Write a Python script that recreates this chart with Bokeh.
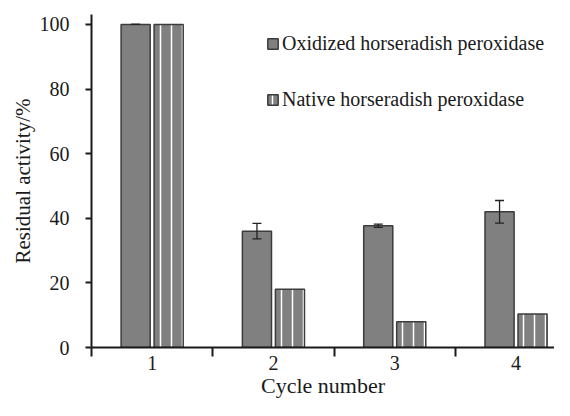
from bokeh.plotting import figure
from bokeh.models import Range1d, FixedTicker, Whisker, TeeHead, ColumnDataSource, Legend, LegendItem
from bokeh.embed import file_html
from bokeh.resources import INLINE

cycles = [1, 2, 3, 4]
tick_labels = ["1", "2", "3", "4"]
oxidized = [100, 36.0, 37.7, 42.0]
oxidized_err = [0.0, 2.4, 0.5, 3.5]
native = [100, 18.0, 8.0, 10.4]
series_names = ["Oxidized horseradish peroxidase", "Native horseradish peroxidase"]
x_title = "Cycle number"
y_title = "Residual activity/%"

FONT = "Liberation Serif"
LFONT = "'Liberation Serif', serif"
OFF = 0.136
BW = 0.24
INK = "#1a1a1a"

p = figure(width=554, height=400, output_backend="svg", toolbar_location=None,
           x_range=Range1d(0.5, 4.317), y_range=Range1d(0, 103.07),
           min_border_left=91, min_border_right=0, min_border_top=14, min_border_bottom=50)
p.outline_line_color = None
p.xgrid.visible = False
p.ygrid.visible = False

ox_x = [c - OFF for c in cycles]
na_x = [c + OFF for c in cycles]
src_ox = ColumnDataSource(dict(x=ox_x, top=oxidized, upper=[v + e for v, e in zip(oxidized, oxidized_err)],
                               lower=[v - e for v, e in zip(oxidized, oxidized_err)]))
src_na = ColumnDataSource(dict(x=na_x, top=native))

r_ox = p.vbar(x="x", top="top", width=BW, source=src_ox, fill_color="#808080",
              line_color="#3c3c3c", line_width=1.5)
r_na = p.vbar(x="x", top="top", width=BW, source=src_na, fill_color="#808080",
              line_color="#3c3c3c", line_width=1.5, hatch_pattern="vertical_line",
              hatch_color="white", hatch_scale=11, hatch_weight=1.5)

w = Whisker(base="x", upper="upper", lower="lower", source=src_ox, line_color="#222222", line_width=1.3,
            upper_head=TeeHead(size=9, line_color="#222222", line_width=1.3),
            lower_head=TeeHead(size=9, line_color="#222222", line_width=1.3))
w.level = "overlay"
p.add_layout(w)

# x axis
xa = p.xaxis[0]
xa.ticker = FixedTicker(ticks=cycles, minor_ticks=[0.5, 1.5, 2.5, 3.5, 4.5])
xa.major_label_overrides = {c: t for c, t in zip(cycles, tick_labels)}
xa.major_tick_out = 0
xa.major_tick_in = 0
xa.minor_tick_out = 9
xa.minor_tick_in = 0
xa.axis_line_width = 2
xa.axis_line_color = INK
xa.minor_tick_line_color = INK
xa.minor_tick_line_width = 2
xa.major_label_text_font = FONT
xa.major_label_text_font_size = "20px"
xa.major_label_text_color = INK
xa.major_label_standoff = -1
xa.axis_label = x_title
xa.axis_label_text_font = FONT
xa.axis_label_text_font_size = "22px"
xa.axis_label_text_font_style = "normal"
xa.axis_label_text_color = INK
xa.axis_label_standoff = 0

# y axis
ya = p.yaxis[0]
ya.ticker = FixedTicker(ticks=[0, 20, 40, 60, 80, 100], minor_ticks=[])
ya.major_tick_out = 6
ya.major_tick_in = 0
ya.major_tick_line_width = 2
ya.major_tick_line_color = INK
ya.axis_line_width = 2
ya.axis_line_color = INK
ya.major_label_text_font = FONT
ya.major_label_text_font_size = "20px"
ya.major_label_text_color = INK
ya.major_label_standoff = 16
ya.axis_label = y_title
ya.axis_label_text_font = FONT
ya.axis_label_text_font_size = "21px"
ya.axis_label_text_font_style = "normal"
ya.axis_label_text_color = INK
ya.axis_label_standoff = 2

legend = Legend(items=[LegendItem(label=series_names[0], renderers=[r_ox]),
                       LegendItem(label=series_names[1], renderers=[r_na])],
                location=(175, 236), orientation="vertical",
                label_text_font=LFONT, label_text_font_size="20px", label_text_color=INK,
                glyph_width=13, glyph_height=13, label_height=22, spacing=33, label_standoff=3,
                padding=0, margin=0, border_line_alpha=0, background_fill_alpha=0)
p.add_layout(legend, "center")

open("out.html", "w").write(file_html(p, INLINE))
